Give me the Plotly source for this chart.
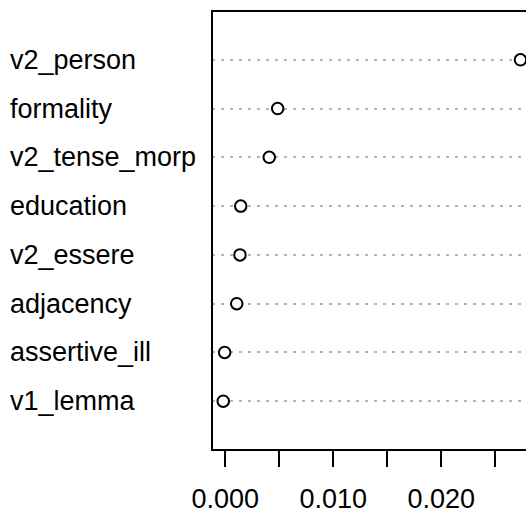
import plotly.graph_objects as go

# Data (bottom to top order as in dotchart)
variables = ["v1_lemma", "assertive_ill", "adjacency", "v2_essere",
             "education", "v2_tense_morp", "formality", "v2_person"]
importance = [-0.00019, -0.00006, 0.00106, 0.00136,
              0.00143, 0.00407, 0.00485, 0.02733]
positions = list(range(1, len(variables) + 1))

x_tickvals = [0.000, 0.005, 0.010, 0.015, 0.020, 0.025]
x_ticktext = ["0.000", "", "0.010", "", "0.020", ""]

FONT = "Liberation Sans, Arial, Helvetica, sans-serif"
W, H = 526, 514
ML, MR, MT, MB = 212, 0, 10.5, 62.3
plot_w = W - ML - MR

fig = go.Figure()
fig.add_trace(go.Scatter(
    x=importance, y=positions, mode="markers",
    marker=dict(symbol="circle", size=11.5, color="white",
                line=dict(color="black", width=2)),
    cliponaxis=True, showlegend=False, hoverinfo="skip"))

# left-aligned category labels
for name, pos in zip(variables, positions):
    fig.add_annotation(x=(7.5 - ML) / plot_w, xref="paper", y=pos, yref="y",
                       text=name, showarrow=False, xanchor="left",
                       yanchor="middle",
                       font=dict(family=FONT, size=27, color="black"))

# box (right side lies outside the picture)
fig.add_shape(type="rect", xref="paper", yref="paper", x0=0, x1=1.2, y0=0, y1=1,
              line=dict(color="black", width=2), layer="above")

fig.update_layout(
    width=W, height=H, margin=dict(l=ML, r=MR, t=MT, b=MB),
    paper_bgcolor="white", plot_bgcolor="white",
    font=dict(family=FONT, size=27, color="black"),
    xaxis=dict(range=[-0.001231, 0.027843], tickvals=x_tickvals,
               ticktext=x_ticktext, ticks="outside", ticklen=16, tickwidth=2,
               tickcolor="black", showgrid=False, zeroline=False,
               showline=False, tickfont=dict(family=FONT, size=27),
               ticklabelstandoff=9),
    yaxis=dict(range=[0, 9], tickvals=positions, showticklabels=False,
               ticks="", showgrid=True, gridcolor="#b4b4b4", gridwidth=1.6,
               griddash="3px,6px", zeroline=False, showline=False),
)

fig.write_html("out.html", config={"displayModeBar": False},
               post_script="document.body.style.margin='0';document.body.style.overflow='hidden';")
